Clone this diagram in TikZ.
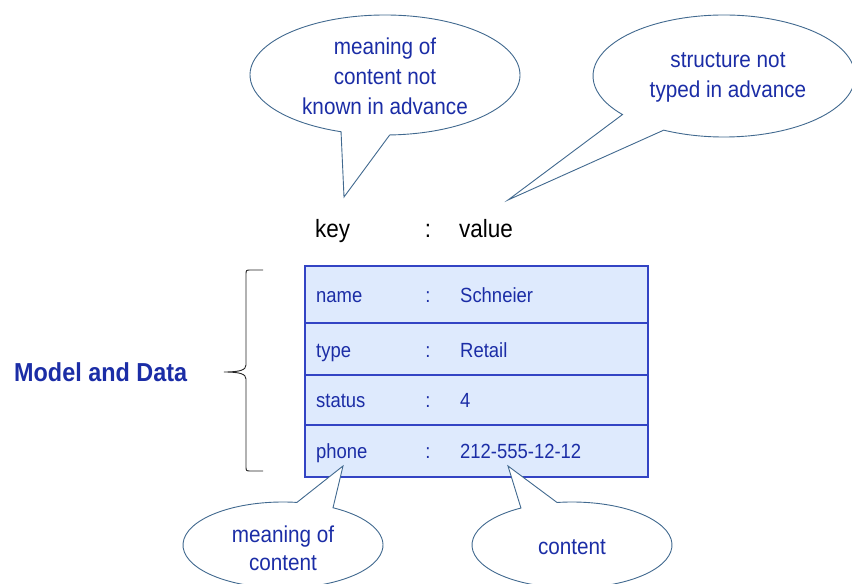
\documentclass[tikz,border=0pt]{standalone}
\usepackage{fontspec}
\setmainfont{Liberation Sans}[FakeStretch=0.9]
\definecolor{inkblue}{HTML}{1B2DA6}
\definecolor{boxline}{HTML}{3344C4}
\definecolor{boxfill}{HTML}{DEEAFD}
\definecolor{bubbleline}{HTML}{41698F}
\tikzset{
  bubble/.style={draw=bubbleline, fill=white, line width=0.9pt, line join=miter},
  bubbletext/.style={text=inkblue, align=center, font=\fontsize{23}{30}\selectfont, inner sep=0pt},
  rowbox/.style={draw=boxline, fill=boxfill, line width=1.1pt, anchor=north west,
    minimum width=343pt, inner sep=0pt, outer sep=0pt},
  rowtext/.style={text=inkblue, anchor=base west, inner sep=0pt, font=\fontsize{20.5}{24}\selectfont},
  rowsep/.style={text=inkblue, anchor=base, inner sep=0pt, font=\fontsize{20.5}{24}\selectfont},
  kvtext/.style={anchor=base west, inner sep=0pt, font=\fontsize{25}{30}\selectfont},
}
\begin{document}
\begin{tikzpicture}[x=1pt, y=1pt]
\useasboundingbox (0,0) rectangle (852,584);

% speech bubble tips
\coordinate (tipKey) at (344,387);
\coordinate (tipValue) at (508,384);
\coordinate (tipPhone) at (343,118);
\coordinate (tipNumber) at (508,118);

% upper bubbles
\draw[bubble] (385,509) ++(272:135pt and 60pt)
  arc[start angle=272, end angle=611, x radius=135pt, y radius=60pt] -- (tipKey) -- cycle;
\draw[bubble] (724,508) ++(242.6:131pt and 61pt)
  arc[start angle=242.6, end angle=579.2, x radius=131pt, y radius=61pt] -- (tipValue) -- cycle;

\node[bubbletext] (meaningUnknown) at (385,508) {meaning of\\content not\\known in advance};
\node[bubbletext] (structure) at (728,507) {structure not\\typed in advance};

% key : value header
\node[kvtext] (hkey) at (315,346) {key};
\node[kvtext, anchor=base] (hcolon) at (428,346) {:};
\node[kvtext] (hvalue) at (459,346) {value};

% record rows
\node[rowbox, minimum height=57pt] (row1) at (305,318) {};
\node[rowbox, minimum height=52pt] (row2) at (305,261) {};
\node[rowbox, minimum height=50pt] (row3) at (305,209) {};
\node[rowbox, minimum height=52pt] (row4) at (305,159) {};

\node[rowtext] (k1) at (316,281) {name};
\node[rowsep]  (c1) at (428,281) {:};
\node[rowtext] (v1) at (460,281) {Schneier};
\node[rowtext] (k2) at (316,226) {type};
\node[rowsep]  (c2) at (428,226) {:};
\node[rowtext] (v2) at (460,226) {Retail};
\node[rowtext] (k3) at (316,176) {status};
\node[rowsep]  (c3) at (428,176) {:};
\node[rowtext] (v3) at (460,176) {4};
\node[rowtext] (k4) at (316,125) {phone};
\node[rowsep]  (c4) at (428,125) {:};
\node[rowtext] (v4) at (460,125) {212-555-12-12};

% curly brace
\draw[black!85, line width=0.9pt]
  (263,314) -- (251,314) .. controls (246,314) .. (246,309) -- (246,219)
  .. controls (246,214) and (240,212) .. (224,212)
  .. controls (240,212) and (246,210) .. (246,205) -- (246,118)
  .. controls (246,113) .. (251,113) -- (263,113);

\node[anchor=base west, inner sep=0pt, text=inkblue, font=\fontsize{26}{30}\selectfont\bfseries]
  (model) at (14,202) {Model and Data};

% lower bubbles
\draw[bubble] (283,39) ++(82:100pt and 43pt)
  arc[start angle=82, end angle=420, x radius=100pt, y radius=43pt] -- (tipPhone) -- cycle;
\draw[bubble] (572,39) ++(120.7:100pt and 43pt)
  arc[start angle=120.7, end angle=458.6, x radius=100pt, y radius=43pt] -- (tipNumber) -- cycle;

\node[bubbletext, font=\fontsize{23}{28}\selectfont] (meaningContent) at (283,36) {meaning of\\content};
\node[bubbletext] (contentLabel) at (572,37) {content};
\end{tikzpicture}
\end{document}
